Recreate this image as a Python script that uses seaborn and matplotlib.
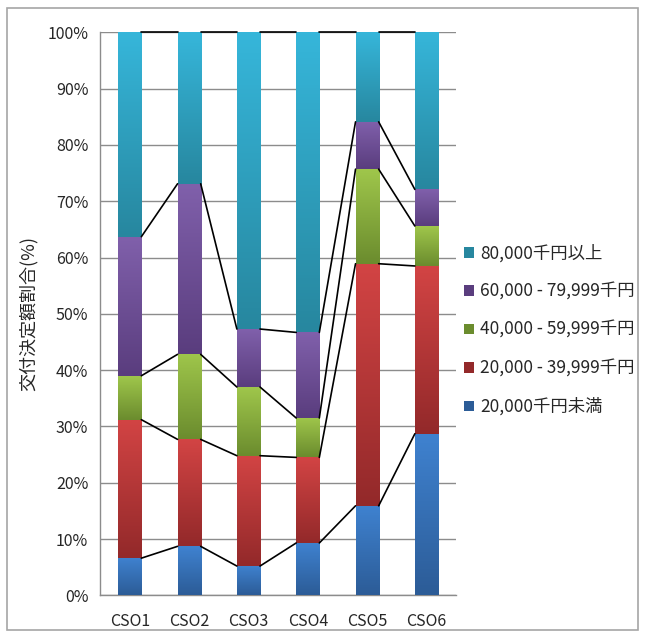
import numpy as np
import pandas as pd
import matplotlib
matplotlib.use("Agg")
import matplotlib.pyplot as plt
import matplotlib.colors as mcolors
from matplotlib.patches import Patch, Rectangle
import seaborn as sns

categories = ["CSO1", "CSO2", "CSO3", "CSO4", "CSO5", "CSO6"]
series = ["20,000千円未満", "20,000 - 39,999千円", "40,000 - 59,999千円",
          "60,000 - 79,999千円", "80,000千円以上"]
under_20k = [6.6, 8.7, 5.2, 9.3, 15.9, 28.7]
from_20k = [24.6, 19.0, 19.6, 15.2, 43.0, 29.8]
from_40k = [7.8, 15.1, 12.2, 7.0, 16.8, 7.1]
from_60k = [24.7, 30.3, 10.3, 15.2, 8.4, 6.5]
over_80k = [36.3, 26.9, 52.7, 53.3, 15.9, 27.9]

# top (light) and bottom (dark) colours of each segment gradient
light = ["#3f82d0", "#d24444", "#9fc64b", "#8060ab", "#36b6da"]
dark = ["#2c5c97", "#93292a", "#6b8c2e", "#5a3d7e", "#27879f"]

df = pd.DataFrame({"cat": categories, series[0]: under_20k, series[1]: from_20k,
                   series[2]: from_40k, series[3]: from_60k, series[4]: over_80k})

sns.set_style("white")
plt.rcParams["font.family"] = ["Noto Sans CJK JP", "DejaVu Sans"]

fig = plt.figure(figsize=(6.46, 6.34), dpi=100)
ax = fig.add_axes([0.155, 0.061, 0.551, 0.888])

bottom = np.zeros(len(categories))
tops = []
for i, s in enumerate(series):
    sns.barplot(data=df, x="cat", y=s, bottom=bottom, color=light[i],
                width=0.39, ax=ax, zorder=2, linewidth=0)
    bottom = bottom + df[s].values
    tops.append(bottom.copy())

# vertical gradient on each segment
for i, s in enumerate(series):
    cmap = mcolors.LinearSegmentedColormap.from_list("g", [dark[i], light[i]])
    for p in ax.patches[i * len(categories):(i + 1) * len(categories)]:
        x, y, w, h = p.get_x(), p.get_y(), p.get_width(), p.get_height()
        grad = np.linspace(0, 1, 100).reshape(-1, 1)
        ax.imshow(grad, extent=[x, x + w, y, y + h], origin="lower",
                  cmap=cmap, aspect="auto", zorder=3)

# series lines between bar tops
w = ax.patches[0].get_width()
for lvl in tops:
    for j in range(len(categories) - 1):
        ax.plot([j + w / 2, j + 1 - w / 2], [lvl[j], lvl[j + 1]],
                color="black", lw=1.2, zorder=4, clip_on=False)

ax.set_xlim(-0.5, len(categories) - 0.5)
ax.set_ylim(0, 100)
ax.set_yticks(np.arange(0, 101, 10))
ax.set_yticklabels([f"{v}%" for v in range(0, 101, 10)])
ax.yaxis.grid(True, color="#8c8c8c", lw=1.0, zorder=0)
ax.set_axisbelow(True)
ax.set_xlabel("")
ax.set_ylabel("交付決定額割合(%)", fontsize=13, labelpad=7)
ax.set_xticks(np.arange(len(categories)))
ax.set_xticklabels(categories)
ax.set_xticks(np.arange(-0.5, len(categories)), minor=True)
ax.tick_params(axis="x", which="major", length=0, pad=13, labelsize=11.5)
ax.tick_params(axis="x", which="minor", length=5, color="#8c8c8c", width=1)
ax.tick_params(axis="y", length=5, color="#8c8c8c", width=1, labelsize=11.5)
for sp in ["top", "right"]:
    ax.spines[sp].set_visible(False)
for sp in ["left", "bottom"]:
    ax.spines[sp].set_color("#8c8c8c")
    ax.spines[sp].set_linewidth(1)

handles = [Patch(facecolor=dark[i], edgecolor="none") for i in range(len(series))]
leg = fig.legend(handles[::-1], series[::-1], loc="upper left",
                 bbox_to_anchor=(0.708, 0.626), frameon=False, fontsize=12.5,
                 handlelength=0.55, handleheight=0.55, handletextpad=0.35,
                 labelspacing=1.17, borderaxespad=0)

fig.patches.append(Rectangle((0.011, 0.006), 0.976, 0.981, transform=fig.transFigure,
                             fill=False, edgecolor="#a6a6a6", lw=1.2))

fig.savefig("out.png", dpi=100)
